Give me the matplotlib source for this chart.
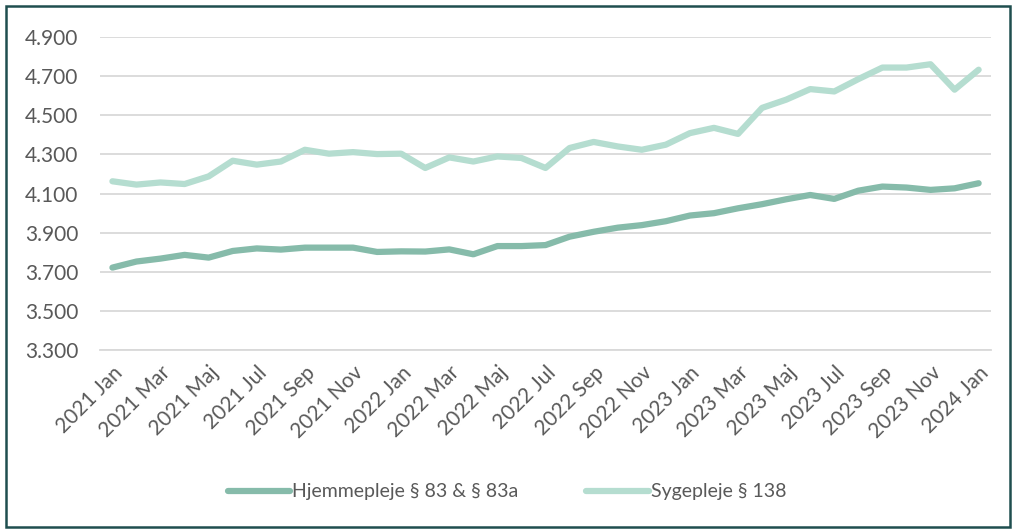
import matplotlib.pyplot as plt
from matplotlib.patches import Rectangle
from matplotlib.ticker import FuncFormatter

# månedlige værdier, 2021 jan - 2024 jan
maaneder = ["Jan", "Feb", "Mar", "Apr", "Maj", "Jun", "Jul", "Aug", "Sep", "Okt", "Nov", "Dec"]
perioder = [f"{2021 + i // 12} {maaneder[i % 12]}" for i in range(37)]

hjemmepleje = [3722, 3753, 3768, 3787, 3773, 3807, 3820, 3814, 3824, 3824, 3824, 3802,
               3805, 3804, 3815, 3790, 3832, 3832, 3837, 3880, 3905, 3926, 3939, 3959,
               3988, 4000, 4025, 4046, 4071, 4093, 4073, 4115, 4136, 4131, 4119, 4127,
               4153]
sygepleje = [4163, 4146, 4157, 4149, 4188, 4268, 4248, 4264, 4324, 4304, 4312, 4302,
             4304, 4231, 4285, 4264, 4290, 4282, 4231, 4333, 4364, 4341, 4324, 4350,
             4409, 4436, 4405, 4538, 4580, 4634, 4622, 4685, 4744, 4744, 4761, 4631,
             4733]

plt.rcParams['font.family'] = ['Lato', 'DejaVu Sans']

fig = plt.figure(figsize=(10.14, 5.29), dpi=100)
ax = fig.add_axes([0.099, 0.338, 0.878, 0.592])

x = range(len(perioder))
ax.plot(x, hjemmepleje, color="#86bbaa", lw=4.5, solid_capstyle="round",
        label="Hjemmepleje § 83 & § 83a")
ax.plot(x, sygepleje, color="#b5ddd0", lw=4.5, solid_capstyle="round",
        label="Sygepleje § 138")

ax.set_ylim(3300, 4900)
ax.set_yticks(range(3300, 4901, 200))
ax.yaxis.set_major_formatter(FuncFormatter(lambda v, p: f"{int(v):,}".replace(",", ".")))
ax.set_xlim(-0.5, 36.5)
ax.set_xticks(list(x)[::2])
ax.set_xticklabels(perioder[::2], rotation=45, ha="right", rotation_mode="anchor")

ax.grid(axis="y", color="#d9d9d9", lw=1.3)
ax.set_axisbelow(True)
for s in ["top", "right", "left"]:
    ax.spines[s].set_visible(False)
ax.spines["bottom"].set_color("#d9d9d9")
ax.spines["bottom"].set_linewidth(1.3)
ax.tick_params(length=0, labelsize=15, colors="#595959")
ax.tick_params(axis="y", pad=16)
ax.tick_params(axis="x", pad=9)

ax.legend(loc="center", bbox_to_anchor=(0.5, 0.07), bbox_transform=fig.transFigure,
          ncol=2, frameon=False, fontsize=14, labelcolor="#595959",
          handlelength=3.2, handletextpad=0.1, columnspacing=3.5)

# ramme
fig.patches.append(Rectangle((0.006, 0.004), 0.99, 0.985, transform=fig.transFigure,
                             fill=False, edgecolor="#1f4e4f", lw=1.8))

fig.savefig("out.png", dpi=100)
